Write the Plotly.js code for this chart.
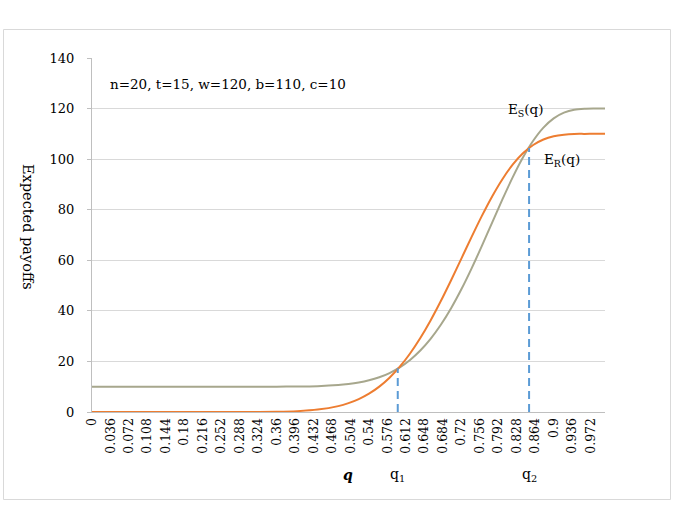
<!DOCTYPE html>
<html>
<head>
<meta charset="utf-8">
<script src="https://cdn.plot.ly/plotly-3.0.1.min.js"></script>
<style>html,body{margin:0;padding:0;background:#fff;}#chart{width:674px;height:510px;}</style>
</head>
<body>
<div id="chart"></div>
<script>
// ---- data ----
const qValues = [0, 0.1, 0.2, 0.3, 0.36, 0.40, 0.44, 0.48, 0.50, 0.52, 0.54, 0.56, 0.58, 0.60, 0.62, 0.64, 0.66, 0.68, 0.70, 0.72, 0.74, 0.76, 0.78, 0.80, 0.82, 0.84, 0.86, 0.88, 0.90, 0.92, 0.94, 0.96, 0.98, 1.0];
const expectedS = [10, 10, 10, 10.0, 10.02, 10.07, 10.23, 10.66, 11.06, 11.65, 12.52, 13.74, 15.41, 17.66, 20.58, 24.31, 28.92, 34.50, 41.04, 48.52, 56.81, 65.70, 74.91, 84.06, 92.77, 100.62, 107.26, 112.46, 116.13, 118.38, 119.55, 119.92, 120, 120];
const expectedR = [0, 0, 0, 0.01, 0.10, 0.34, 0.95, 2.33, 3.50, 5.10, 7.24, 10.03, 13.56, 17.92, 23.15, 29.27, 36.22, 43.89, 52.12, 60.67, 69.25, 77.55, 85.25, 92.07, 97.79, 102.30, 105.59, 107.77, 109.05, 109.68, 109.97, 109.99, 110, 110];
const thresholdQ = [0.596, 0.852];
const thresholdY = [17.3, 104.4];
const thresholdLabels = ['q<sub>1</sub>', 'q<sub>2</sub>'];
const tickVals = [0, 0.036, 0.072, 0.108, 0.144, 0.18, 0.216, 0.252, 0.288, 0.324, 0.36, 0.396, 0.432, 0.468, 0.504, 0.54, 0.576, 0.612, 0.648, 0.684, 0.72, 0.756, 0.792, 0.828, 0.864, 0.9, 0.936, 0.972];
const tickText = ['0', '0.036', '0.072', '0.108', '0.144', '0.18', '0.216', '0.252', '0.288', '0.324', '0.36', '0.396', '0.432', '0.468', '0.504', '0.54', '0.576', '0.612', '0.648', '0.684', '0.72', '0.756', '0.792', '0.828', '0.864', '0.9', '0.936', '0.972'];
const paramText = 'n=20, t=15, w=120, b=110, c=10';

// ---- layout helpers (pixel -> paper) ----
const L = 92, R = 605, T = 58, B = 412;
const px = x => (x - L) / (R - L);
const py = y => (B - y) / (B - T);
const FONT = 'DejaVu Serif, serif';

const traces = [
  {x: qValues, y: expectedS, mode: 'lines', line: {color: '#A7A78D', width: 2, shape: 'spline', smoothing: 0.8}, hoverinfo: 'skip', name: 'ES'},
  {x: qValues, y: expectedR, mode: 'lines', line: {color: '#ED7D31', width: 2, shape: 'spline', smoothing: 0.8}, hoverinfo: 'skip', name: 'ER'}
];
thresholdQ.forEach((q, i) => {
  traces.push({x: [q, q], y: [0, thresholdY[i]], mode: 'lines', line: {color: '#5B9BD5', width: 2, dash: '8px,5px'}, hoverinfo: 'skip'});
});

const annotations = [
  {xref: 'paper', yref: 'paper', x: px(108), y: py(84), xanchor: 'left', yanchor: 'middle', text: paramText, showarrow: false, font: {family: FONT, size: 13.5, color: '#000'}},
  {xref: 'paper', yref: 'paper', x: px(506), y: py(110), xanchor: 'left', yanchor: 'middle', text: 'E<sub>S</sub>(q)', showarrow: false, font: {family: FONT, size: 13.5, color: '#000'}},
  {xref: 'paper', yref: 'paper', x: px(542), y: py(160), xanchor: 'left', yanchor: 'middle', text: 'E<sub>R</sub>(q)', showarrow: false, font: {family: FONT, size: 13.5, color: '#000'}},
  {xref: 'paper', yref: 'paper', x: px(348), y: py(475), xanchor: 'center', yanchor: 'middle', text: '<b><i>q</i></b>', showarrow: false, font: {family: FONT, size: 14, color: '#000'}},
  {xref: 'paper', yref: 'paper', x: px(28), y: py(227), xanchor: 'center', yanchor: 'middle', text: 'Expected payoffs', textangle: 90, showarrow: false, font: {family: FONT, size: 14.5, color: '#000'}}
];
thresholdQ.forEach((q, i) => {
  annotations.push({xref: 'x', yref: 'paper', x: q, y: py(475), xanchor: 'center', yanchor: 'middle', text: thresholdLabels[i], showarrow: false, font: {family: FONT, size: 14, color: '#000'}});
});

const layout = {
  width: 674, height: 510,
  margin: {l: L, r: 674 - R, t: T, b: 510 - B, pad: 0},
  paper_bgcolor: '#fff', plot_bgcolor: '#fff',
  showlegend: false,
  font: {family: FONT, size: 12.5, color: '#000'},
  xaxis: {
    range: [0, 1], tickmode: 'array', tickvals: tickVals, ticktext: tickText, tickangle: -90,
    showgrid: false, zeroline: false, showline: true, linecolor: '#BFBFBF', linewidth: 1,
    ticks: '', tickfont: {family: FONT, size: 12.5, color: '#000'}, fixedrange: true
  },
  yaxis: {
    range: [0, 140], tickvals: [0, 20, 40, 60, 80, 100, 120, 140],
    showgrid: true, gridcolor: '#D9D9D9', gridwidth: 1, zeroline: false,
    showline: true, linecolor: '#BFBFBF', linewidth: 1, ticks: 'outside', ticklen: 4, tickcolor: '#BFBFBF',
    ticklabelstandoff: 10, tickfont: {family: FONT, size: 13, color: '#000'}, fixedrange: true
  },
  annotations: annotations,
  shapes: [
    {type: 'rect', xref: 'paper', yref: 'paper', x0: px(3.5), x1: px(670.5), y0: py(499.5), y1: py(29.5), line: {color: '#D9D9D9', width: 1}, fillcolor: 'rgba(0,0,0,0)', layer: 'below'}
  ]
};

Plotly.newPlot('chart', traces, layout, {staticPlot: true, displayModeBar: false});
</script>
</body>
</html>
